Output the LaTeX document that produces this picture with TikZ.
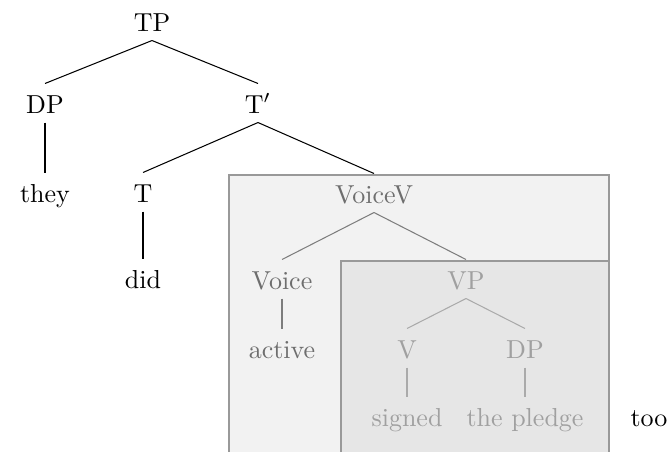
\documentclass[tikz,border=0pt]{standalone}
\usepackage{xcolor}
\definecolor{outerfill}{HTML}{F2F2F2}
\definecolor{innerfill}{HTML}{E6E6E6}
\definecolor{boxline}{HTML}{999999}
\definecolor{outertext}{HTML}{6E6E6E}
\definecolor{innertext}{HTML}{A0A0A0}
\begin{document}
\begin{tikzpicture}[x=0.3846pt,y=-0.3846pt,
  lbl/.style={anchor=base,inner sep=0pt,text height=11.15pt,text depth=3.46pt,font=\fontsize{10}{12}\selectfont},
  outerlbl/.style={lbl,text=outertext},
  innerlbl/.style={lbl,text=innertext},
  edge/.style={draw=black,line width=0.4pt},
  outeredge/.style={draw=outertext!90,line width=0.4pt},
  inneredge/.style={draw=innertext!90,line width=0.4pt},
  outerbox/.style={fill=outerfill,draw=boxline,line width=0.5pt},
  innerbox/.style={fill=innerfill,draw=boxline,line width=0.5pt}]
\useasboundingbox (0,0) rectangle (668,451);
\clip (0,0) rectangle (668,451);
% boxes
\path[outerbox] (229,175) rectangle (609,470);
\path[innerbox] (341,261) rectangle (609,470);
% nodes
\node[lbl] (tp) at (152,31) {TP};
\node[lbl] (dp) at (45,113) {DP};
\node[lbl] (tbar) at (258,113) {T$'$};
\node[lbl] (they) at (45,202) {they};
\node[lbl] (t) at (143,202) {T};
\node[lbl] (did) at (143,288) {did};
\node[outerlbl] (voicev) at (374,203) {VoiceV};
\node[outerlbl] (voice) at (282,289) {Voice};
\node[outerlbl] (active) at (282,358) {active};
\node[innerlbl] (vp) at (466,289) {VP};
\node[innerlbl] (v) at (407,358) {V};
\node[innerlbl] (dp2) at (525,358) {DP};
\node[innerlbl] (signed) at (407,426) {signed};
\node[innerlbl] (pledge) at (525,426) {the pledge};
\node[lbl] (too) at (649,426) {too};
% edges
\draw[edge] (tp.south) -- (dp.north);
\draw[edge] (tp.south) -- (tbar.north);
\draw[edge] (dp.south) -- (they.north);
\draw[edge] (tbar.south) -- (t.north);
\draw[edge] (tbar.south) -- (voicev.north);
\draw[edge] (t.south) -- (did.north);
\draw[outeredge] (voicev.south) -- (voice.north);
\draw[outeredge] (voicev.south) -- (vp.north);
\draw[outeredge] (voice.south) -- (active.north);
\draw[inneredge] (vp.south) -- (v.north);
\draw[inneredge] (vp.south) -- (dp2.north);
\draw[inneredge] (v.south) -- (signed.north);
\draw[inneredge] (dp2.south) -- (pledge.north);
\end{tikzpicture}
\end{document}
